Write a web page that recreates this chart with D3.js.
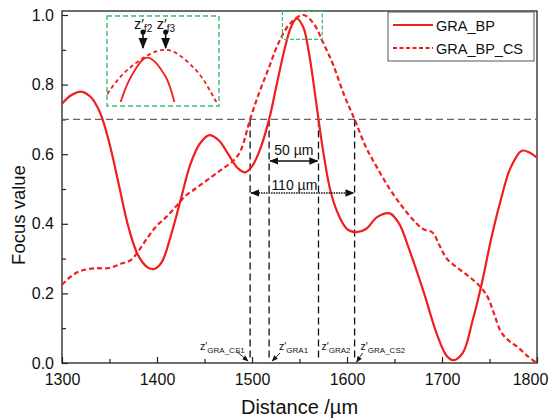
<!DOCTYPE html>
<html>
<head>
<meta charset="utf-8">
<script src="https://cdn.jsdelivr.net/npm/d3@7"></script>
<style>
body { margin: 0; background: #fff; }
text { font-family: "Liberation Sans", Arial, sans-serif; fill: #111; }
</style>
</head>
<body>
<div id="chart"></div>
<script>
// GRA_BP (solid)
const bpDistance = [1300, 1310, 1320, 1330, 1340, 1350, 1360, 1370, 1380, 1390, 1397, 1405, 1415, 1425, 1435, 1445, 1455, 1465, 1475, 1485, 1493, 1500, 1508, 1518, 1526, 1535, 1541, 1547, 1554, 1560, 1565, 1570, 1576, 1583, 1592, 1600, 1610, 1620, 1632, 1645, 1655, 1665, 1680, 1695, 1705, 1712, 1722, 1732, 1742, 1752, 1762, 1772, 1784, 1792, 1800];
const bpFocus = [0.745, 0.77, 0.78, 0.765, 0.72, 0.63, 0.51, 0.39, 0.31, 0.275, 0.27, 0.29, 0.37, 0.47, 0.57, 0.63, 0.655, 0.64, 0.6, 0.56, 0.548, 0.565, 0.61, 0.7, 0.8, 0.91, 0.965, 0.99, 0.965, 0.89, 0.8, 0.7, 0.59, 0.49, 0.42, 0.385, 0.376, 0.385, 0.42, 0.43, 0.4, 0.33, 0.21, 0.08, 0.02, 0.008, 0.03, 0.12, 0.23, 0.36, 0.47, 0.56, 0.61, 0.605, 0.59];

// GRA_BP_CS (dashed)
const csDistance = [1300, 1310, 1320, 1335, 1350, 1362, 1372, 1380, 1390, 1400, 1410, 1420, 1430, 1440, 1450, 1460, 1470, 1480, 1488, 1498, 1508, 1518, 1528, 1540, 1554, 1565, 1575, 1585, 1597, 1608, 1620, 1632, 1645, 1658, 1670, 1680, 1690, 1697, 1705, 1718, 1730, 1740, 1748, 1755, 1762, 1770, 1780, 1790, 1800];
const csFocus = [0.225, 0.25, 0.265, 0.272, 0.273, 0.285, 0.295, 0.32, 0.36, 0.395, 0.42, 0.45, 0.48, 0.5, 0.52, 0.54, 0.56, 0.58, 0.61, 0.7, 0.78, 0.85, 0.92, 0.975, 1.0, 0.975, 0.92, 0.86, 0.77, 0.7, 0.62, 0.56, 0.5, 0.45, 0.41, 0.385, 0.375, 0.34, 0.3, 0.27, 0.245, 0.22, 0.19, 0.14, 0.09, 0.065, 0.045, 0.02, 0.0];

const seriesNames = ["GRA_BP", "GRA_BP_CS"];
const xTicks = [1300, 1400, 1500, 1600, 1700, 1800];
const yTicks = [0, 0.2, 0.4, 0.6, 0.8, 1.0];

// annotation values
const threshold = 0.7;
const zMarks = [1498, 1518, 1570, 1608];
const zNames = ["GRA_CS1", "GRA1", "GRA2", "GRA_CS2"];
const peakDistance = [1547, 1554];
const peakNames = ["f2", "f3"];
const zoomX = [1532, 1574];
const zoomBoxY = [0.93, 1.01];
const insetY = [0.927, 1.044];

const red = "#f21d1d";
const green = "#3dbb6a";

const svg = d3.select("#chart").append("svg")
    .attr("width", 552)
    .attr("height", 419);

const x = d3.scaleLinear().domain([1300, 1800]).range([62, 537]);
const y = d3.scaleLinear().domain([0, 1.0115]).range([363, 11]);

const bpData = bpDistance.map((d, i) => ({ d: d, v: bpFocus[i] }));
const csData = csDistance.map((d, i) => ({ d: d, v: csFocus[i] }));

// axes (inward ticks)
svg.append("g")
    .attr("transform", `translate(0,${y(0)})`)
    .call(d3.axisBottom(x).tickValues(xTicks).tickSize(-6).tickPadding(11).tickFormat(d3.format("d")));
svg.append("g")
    .attr("transform", `translate(0,${y(0)})`)
    .call(d3.axisBottom(x).tickValues(d3.range(1350, 1800, 100)).tickSize(-4).tickFormat(""));
svg.append("g")
    .attr("transform", `translate(${x(1300)},0)`)
    .call(d3.axisLeft(y).tickValues(yTicks).tickSize(-6).tickPadding(8).tickFormat(d3.format(".1f")));
svg.append("g")
    .attr("transform", `translate(${x(1300)},0)`)
    .call(d3.axisLeft(y).tickValues([0.1, 0.3, 0.5, 0.7, 0.9]).tickSize(-4).tickFormat(""));

svg.selectAll(".domain").remove();
svg.selectAll(".tick line").attr("stroke", "#222").attr("stroke-width", 1.2);
svg.selectAll(".tick text").style("font-size", "16px").style("fill", "#111")
    .style("font-family", "'Liberation Sans', Arial, sans-serif");
// keep the last x label inside the picture
svg.selectAll(".tick text").filter(d => d === 1800).attr("dx", -7);

svg.append("rect")
    .attr("x", x(1300)).attr("y", y.range()[1])
    .attr("width", x(1800) - x(1300)).attr("height", y(0) - y.range()[1])
    .attr("fill", "none").attr("stroke", "#222").attr("stroke-width", 1.3);

svg.append("text")
    .attr("x", (x(1300) + x(1800)) / 2).attr("y", 414)
    .attr("text-anchor", "middle").style("font-size", "20px")
    .text("Distance /µm");
svg.append("text")
    .attr("transform", "translate(25,215) rotate(-90)")
    .attr("text-anchor", "middle").style("font-size", "18.5px")
    .text("Focus value");

// threshold line
svg.append("line")
    .attr("x1", x(1300)).attr("x2", x(1800))
    .attr("y1", y(threshold)).attr("y2", y(threshold))
    .attr("stroke", "#666").attr("stroke-width", 1.2).attr("stroke-dasharray", "7,4");

// vertical markers
svg.selectAll(".zline").data(zMarks).enter().append("line")
    .attr("x1", d => x(d)).attr("x2", d => x(d))
    .attr("y1", y(threshold)).attr("y2", y(0.015))
    .attr("stroke", "#111").attr("stroke-width", 1.3).attr("stroke-dasharray", "7,4");

const line = d3.line()
    .x(d => x(d.d))
    .y(d => y(d.v))
    .curve(d3.curveCatmullRom.alpha(0.5));

svg.append("path").datum(bpData)
    .attr("fill", "none").attr("stroke", red).attr("stroke-width", 2.2)
    .attr("d", line);
svg.append("path").datum(csData)
    .attr("fill", "none").attr("stroke", red).attr("stroke-width", 2.2)
    .attr("stroke-dasharray", "5,3")
    .attr("d", line);

// arrow markers
const defs = svg.append("defs");
defs.append("marker").attr("id", "arr")
    .attr("viewBox", "0 0 10 10").attr("refX", 9).attr("refY", 5)
    .attr("markerWidth", 7).attr("markerHeight", 7).attr("orient", "auto-start-reverse")
    .append("path").attr("d", "M0,1 L10,5 L0,9 Z").attr("fill", "#111");
defs.append("marker").attr("id", "dot")
    .attr("viewBox", "0 0 10 10").attr("refX", 5).attr("refY", 5)
    .attr("markerWidth", 4).attr("markerHeight", 4)
    .append("circle").attr("cx", 5).attr("cy", 5).attr("r", 4).attr("fill", "#111");

// width arrows
const widthArrows = [
    { a: zMarks[1], b: zMarks[2], yy: 161, label: "50 µm", ly: 155, dash: null },
    { a: zMarks[0], b: zMarks[3], yy: 193, label: "110 µm", ly: 190, dash: "1.5,1" }
];
widthArrows.forEach(w => {
    svg.append("line")
        .attr("x1", x(w.a) + 1).attr("x2", x(w.b) - 1)
        .attr("y1", w.yy).attr("y2", w.yy)
        .attr("stroke", "#111").attr("stroke-width", 1.3)
        .attr("stroke-dasharray", w.dash)
        .attr("marker-start", "url(#arr)").attr("marker-end", "url(#arr)");
    svg.append("text")
        .attr("x", (x(w.a) + x(w.b)) / 2 + (w.dash ? -8 : 0)).attr("y", w.ly)
        .attr("text-anchor", "middle").style("font-size", "14px")
        .text(w.label);
});

// z' labels at bottom
const zLabelPos = [
    { dx: -50, ly: 350, ax1: -14, ay1: 351, ax2: -2, ay2: 361 },
    { dx: 10, ly: 350, ax1: 11, ay1: 353, ax2: 3, ay2: 361 },
    { dx: 3, ly: 350, ax1: null },
    { dx: 6, ly: 350, ax1: 8, ay1: 353, ax2: 2, ay2: 362 }
];
zMarks.forEach((m, i) => {
    const p = zLabelPos[i];
    const t = svg.append("text")
        .attr("x", x(m) + p.dx).attr("y", p.ly)
        .style("font-size", "10.5px");
    t.append("tspan").text("z′");
    t.append("tspan").attr("dy", 3).style("font-size", "8px").text(zNames[i]);
    if (p.ax1 !== null) {
        svg.append("line")
            .attr("x1", x(m) + p.ax1).attr("y1", p.ay1)
            .attr("x2", x(m) + p.ax2).attr("y2", p.ay2)
            .attr("stroke", "#111").attr("stroke-width", 0.9)
            .attr("marker-end", "url(#arr)");
    }
});

// zoom box on main chart
svg.append("rect")
    .attr("x", x(zoomX[0])).attr("y", y(zoomBoxY[1]))
    .attr("width", x(zoomX[1]) - x(zoomX[0])).attr("height", y(zoomBoxY[0]) - y(zoomBoxY[1]))
    .attr("fill", "none").attr("stroke", green).attr("stroke-width", 1.2).attr("stroke-dasharray", "4,2");

// inset
const ix = d3.scaleLinear().domain(zoomX).range([107, 219]);
const iy = d3.scaleLinear().domain(insetY).range([106, 16]);
defs.append("clipPath").attr("id", "insetClip")
    .append("rect").attr("x", 107).attr("y", 16).attr("width", 112).attr("height", 86);
const iline = d3.line()
    .x(d => ix(d.d))
    .y(d => iy(d.v))
    .curve(d3.curveCatmullRom.alpha(0.5));
const inset = svg.append("g").attr("clip-path", "url(#insetClip)");
inset.append("path").datum(bpData)
    .attr("fill", "none").attr("stroke", red).attr("stroke-width", 1.8)
    .attr("d", iline);
inset.append("path").datum(csData)
    .attr("fill", "none").attr("stroke", red).attr("stroke-width", 1.8)
    .attr("stroke-dasharray", "4,3")
    .attr("d", iline);
svg.append("rect")
    .attr("x", 107).attr("y", 16).attr("width", 112).attr("height", 90)
    .attr("fill", "none").attr("stroke", green).attr("stroke-width", 1.4).attr("stroke-dasharray", "5,3");

peakDistance.forEach((p, i) => {
    const px = ix(p) - (i === 0 ? 4 : 0);
    svg.append("line")
        .attr("x1", px).attr("x2", px).attr("y1", 32).attr("y2", 48)
        .attr("stroke", "#111").attr("stroke-width", 1.6)
        .attr("marker-start", "url(#dot)").attr("marker-end", "url(#arr)");
    const t = svg.append("text").attr("x", px - 9).attr("y", 29).style("font-size", "14.5px");
    t.append("tspan").text("z′");
    t.append("tspan").attr("dy", 3).style("font-size", "10px").text(peakNames[i]);
});

// legend
svg.append("rect")
    .attr("x", 388).attr("y", 12).attr("width", 146).attr("height", 49)
    .attr("fill", "#fff").attr("stroke", "#555").attr("stroke-width", 1);
seriesNames.forEach((n, i) => {
    const ly = 25 + i * 23;
    svg.append("line")
        .attr("x1", 393).attr("x2", 433).attr("y1", ly).attr("y2", ly)
        .attr("stroke", red).attr("stroke-width", 2.2)
        .attr("stroke-dasharray", i === 1 ? "4,2.5" : null);
    svg.append("text")
        .attr("x", 436).attr("y", ly + 6)
        .style("font-size", "14.5px")
        .text(n);
});
</script>
</body>
</html>
